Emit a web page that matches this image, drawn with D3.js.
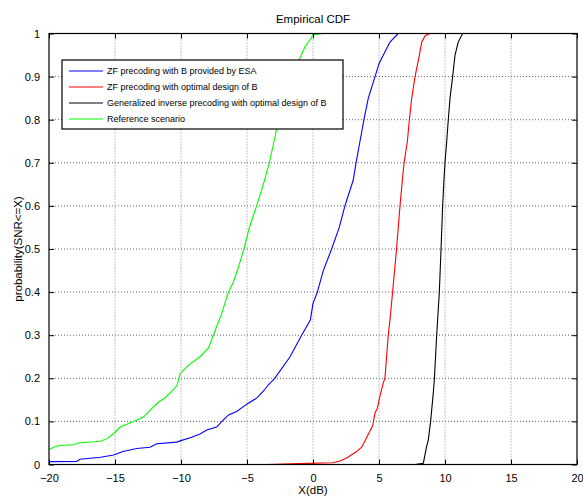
<!DOCTYPE html>
<html>
<head>
<meta charset="utf-8">
<script src="https://cdn.jsdelivr.net/npm/d3@7"></script>
<style>
  body { margin: 0; background: #fff; }
  svg text { font-family: "Liberation Sans", Arial, Helvetica, sans-serif; }
</style>
</head>
<body>
<svg id="chart" width="583" height="500"></svg>
<script>
// series: [x(dB), probability]
var esaCurve = [[-20,0.0066],[-17.9,0.007],[-17.65,0.012],[-16.1,0.017],[-15.1,0.022],[-14.4,0.03],
  [-13.36,0.037],[-12.35,0.04],[-11.84,0.048],[-10.33,0.052],[-9.95,0.056],[-9.3,0.062],[-8.56,0.071],
  [-8.05,0.08],[-7.3,0.087],[-6.9,0.1],[-6.4,0.115],[-5.78,0.123],[-5.02,0.14],[-4.27,0.154],
  [-3.76,0.17],[-3.38,0.185],[-2.9,0.2],[-1.74,0.25],[-0.86,0.3],[-0.2,0.335],[0.0,0.374],[0.33,0.4],
  [0.78,0.45],[1.41,0.5],[1.99,0.55],[2.42,0.6],[3.05,0.66],[3.26,0.7],[3.56,0.75],[3.86,0.8],
  [4.19,0.85],[4.7,0.9],[5.0,0.93],[5.33,0.95],[5.83,0.98],[6.46,1.0]];
var optCurve = [[-3.4,0],[-1.1,0.002],[1.5,0.004],[2.05,0.008],[2.55,0.015],[3.3,0.03],[3.69,0.04],
  [3.94,0.055],[4.19,0.07],[4.52,0.09],[4.7,0.12],[4.87,0.13],[5.08,0.16],[5.33,0.19],[5.45,0.2],
  [5.7,0.3],[5.83,0.335],[6.03,0.4],[6.33,0.5],[6.59,0.6],[6.77,0.66],[6.9,0.7],[7.15,0.75],
  [7.3,0.8],[7.48,0.85],[7.73,0.9],[8.06,0.95],[8.23,0.98],[8.5,0.995],[8.86,1.0]];
var ginvCurve = [[7.73,0],[8.36,0.003],[8.6,0.041],[8.73,0.056],[8.91,0.1],[8.99,0.126],[9.11,0.165],
  [9.19,0.196],[9.37,0.3],[9.57,0.4],[9.7,0.5],[9.82,0.6],[9.92,0.66],[10.0,0.7],[10.13,0.75],
  [10.25,0.8],[10.38,0.85],[10.58,0.9],[10.76,0.95],[11.0,0.98],[11.34,1.0]];
var refCurve = [[-20,0.035],[-19.55,0.041],[-19.2,0.044],[-18.16,0.046],[-17.8,0.05],[-16.1,0.054],
  [-15.6,0.06],[-15.1,0.072],[-14.6,0.087],[-13.6,0.1],[-12.85,0.11],[-12.2,0.13],[-11.7,0.145],
  [-11.2,0.155],[-10.7,0.17],[-10.33,0.182],[-10.15,0.2],[-10.08,0.21],[-9.45,0.23],[-8.56,0.25],
  [-7.93,0.27],[-7.55,0.3],[-6.92,0.35],[-6.41,0.4],[-6.08,0.42],[-5.73,0.45],[-5.23,0.5],
  [-4.82,0.55],[-4.27,0.6],[-3.76,0.65],[-3.31,0.7],[-2.95,0.75],[-2.6,0.8],[-2.2,0.85],[-1.6,0.9],
  [-1.0,0.942],[-0.6,0.97],[-0.23,0.985],[0.0,0.997],[0.76,1.0]];

var seriesNames = ["ZF precoding with B provided by ESA", "ZF precoding with optimal design of B",
  "Generalized inverse precoding with optimal design of B", "Reference scenario"];
var seriesColors = ["#0000ff", "#ff0000", "#000000", "#00ff00"];
var seriesData = [esaCurve, optCurve, ginvCurve, refCurve];

var xTicks = [-20, -15, -10, -5, 0, 5, 10, 15, 20];
var yTicks = [0, 0.1, 0.2, 0.3, 0.4, 0.5, 0.6, 0.7, 0.8, 0.9, 1];

(function() {
  var svg = d3.select("#chart");
  var pLeft = 49, pRight = 577, pTop = 33.5, pBottom = 464.5;

  var x = d3.scaleLinear().domain([-20, 20]).range([pLeft, pRight]);
  var y = d3.scaleLinear().domain([0, 1]).range([pBottom, pTop]);

  // grid
  var grid = svg.append("g");
  grid.selectAll("line.vg").data(xTicks.slice(1, -1)).enter().append("line")
    .attr("x1", function(d) { return x(d); }).attr("x2", function(d) { return x(d); })
    .attr("y1", pTop).attr("y2", pBottom)
    .attr("stroke", "#888").attr("stroke-dasharray", "1,2");
  grid.selectAll("line.hg").data(yTicks.slice(1, -1)).enter().append("line")
    .attr("y1", function(d) { return y(d); }).attr("y2", function(d) { return y(d); })
    .attr("x1", pLeft).attr("x2", pRight)
    .attr("stroke", "#666").attr("stroke-dasharray", "1,2");

  // curves
  var line = d3.line()
    .x(function(d) { return x(d[0]); })
    .y(function(d) { return y(d[1]); });

  svg.selectAll("path.cdf").data(seriesData).enter().append("path")
    .attr("class", "cdf")
    .attr("d", line)
    .attr("fill", "none")
    .attr("stroke", function(d, i) { return seriesColors[i]; })
    .attr("stroke-width", 1.1);

  // axes, matlab style ticks pointing in
  function fmt(d) { return d3.format("")(d); }
  svg.append("g").attr("transform", "translate(0," + pBottom + ")")
    .call(d3.axisBottom(x).tickValues(xTicks).tickSizeInner(-5).tickSizeOuter(0).tickPadding(10).tickFormat(fmt))
    .call(function(g) { g.select(".domain").remove(); });
  svg.append("g").attr("transform", "translate(0," + pTop + ")")
    .call(d3.axisTop(x).tickValues(xTicks).tickSizeInner(-5).tickSizeOuter(0).tickFormat(""))
    .call(function(g) { g.select(".domain").remove(); });
  svg.append("g").attr("transform", "translate(" + pLeft + ",0)")
    .call(d3.axisLeft(y).tickValues(yTicks).tickSizeInner(-5).tickSizeOuter(0).tickPadding(9).tickFormat(fmt))
    .call(function(g) { g.select(".domain").remove(); });
  svg.append("g").attr("transform", "translate(" + pRight + ",0)")
    .call(d3.axisRight(y).tickValues(yTicks).tickSizeInner(-5).tickSizeOuter(0).tickFormat(""))
    .call(function(g) { g.select(".domain").remove(); });

  svg.selectAll(".tick text").attr("font-size", 11).attr("fill", "#000")
    .attr("font-family", "Liberation Sans, Arial, sans-serif");
  svg.selectAll(".tick line").attr("stroke", "#000");

  svg.append("rect").attr("x", pLeft).attr("y", pTop)
    .attr("width", pRight - pLeft).attr("height", pBottom - pTop)
    .attr("fill", "none").attr("stroke", "#000").attr("stroke-width", 1.2);

  // labels
  svg.append("text").attr("x", 313).attr("y", 23).attr("text-anchor", "middle")
    .attr("font-size", 11.5).text("Empirical CDF");
  svg.append("text").attr("x", 313).attr("y", 494).attr("text-anchor", "middle")
    .attr("font-size", 11.5).text("X(dB)");
  svg.append("text").attr("transform", "translate(22,249) rotate(-90)").attr("text-anchor", "middle")
    .attr("font-size", 11.5).text("probability(SNR<=X)");

  // legend
  var legend = svg.append("g");
  legend.append("rect").attr("x", 62).attr("y", 60).attr("width", 281).attr("height", 69)
    .attr("fill", "#fff").attr("stroke", "#000").attr("stroke-width", 1.2);
  var rows = legend.selectAll("g.row").data(seriesNames).enter().append("g")
    .attr("class", "row")
    .attr("transform", function(d, i) { return "translate(0," + (71 + i * 16) + ")"; });
  rows.append("line").attr("x1", 69).attr("x2", 103)
    .attr("stroke", function(d, i) { return seriesColors[i]; }).attr("stroke-width", 1.1);
  rows.append("text").attr("x", 107).attr("dy", "0.33em").attr("font-size", 9)
    .text(function(d) { return d; });
})();
</script>
</body>
</html>
